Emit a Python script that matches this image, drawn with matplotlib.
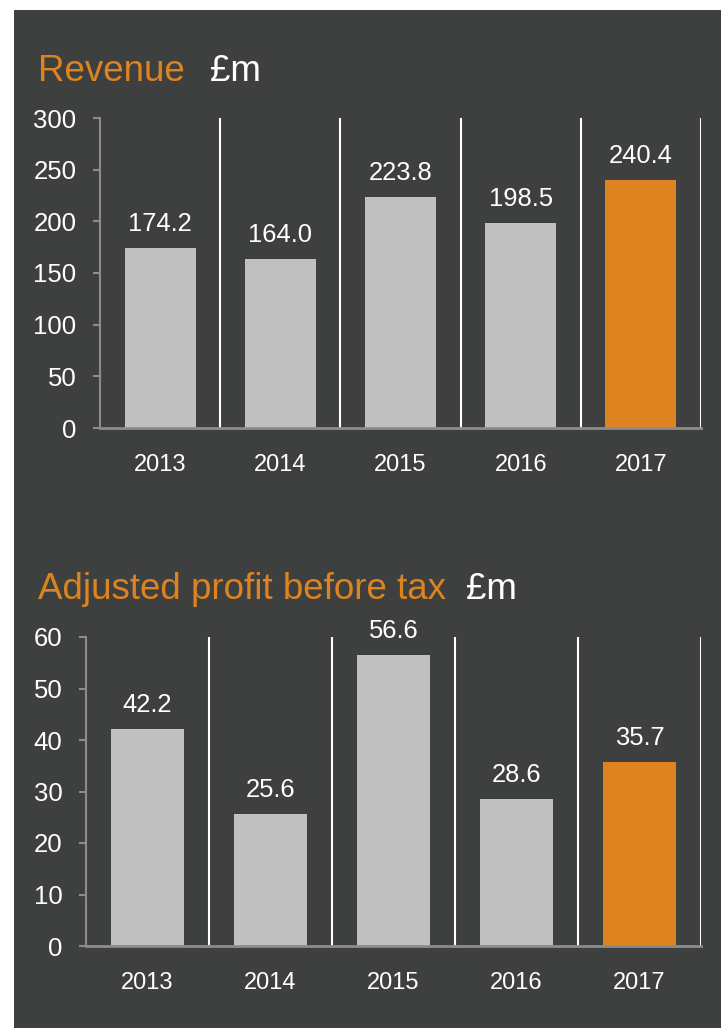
import numpy as np
import matplotlib.pyplot as plt
from matplotlib.patches import Rectangle

plt.rcParams["font.family"] = ["Liberation Sans", "DejaVu Sans"]

years = ['2013', '2014', '2015', '2016', '2017']
revenue = [174.2, 164.0, 223.8, 198.5, 240.4]
profit = [42.2, 25.6, 56.6, 28.6, 35.7]

bg = '#3e3f3f'
orange = '#dd8320'
grey_bar = '#c0c0c0'
axis_grey = '#8c8c8c'

W, H = 721, 1028
fig = plt.figure(figsize=(W / 100, H / 100), dpi=100)
fig.patch.set_facecolor('white')
fig.patches.append(Rectangle((14 / W, 0), 1, 1 - 10 / H, transform=fig.transFigure,
                             facecolor=bg, edgecolor='none', zorder=-5))


def panel(rect, values, ymax, step):
    ax = fig.add_axes(rect)
    ax.set_facecolor('none')
    x = np.arange(len(values))
    colors = [grey_bar] * (len(values) - 1) + [orange]
    bars = ax.bar(x, values, 0.59, color=colors, zorder=2)
    for b, v in zip(bars, values):
        ax.annotate(f'{v:.1f}', xy=(b.get_x() + b.get_width() / 2, v),
                    xytext=(0, 8.5), textcoords='offset points',
                    ha='center', va='bottom', color='white', fontsize=18.4)
    for xv in x + 0.5:
        ax.axvline(xv, color='white', lw=1.5, zorder=1)
    ax.set_xlim(-0.5, len(values) - 0.5)
    ax.set_ylim(0, ymax)
    ax.set_yticks(np.arange(0, ymax + 1, step))
    ax.set_xticks(x)
    ax.set_xticklabels(years)
    ax.tick_params(axis='x', length=0, pad=19, labelsize=17, colors='white')
    ax.tick_params(axis='y', length=5, width=1.5, color=axis_grey, pad=12,
                   labelsize=18.5, labelcolor='white')
    for s in ['top', 'right']:
        ax.spines[s].set_visible(False)
    ax.spines['left'].set_color(axis_grey)
    ax.spines['left'].set_linewidth(1.5)
    ax.spines['bottom'].set_color(axis_grey)
    ax.spines['bottom'].set_linewidth(2)
    return ax


panel([100 / W, 1 - 428 / H, 601 / W, 310 / H], revenue, 300, 50)
panel([86 / W, 1 - 946 / H, 615 / W, 309 / H], profit, 60, 10)

fig.text(38 / W, 1 - 81 / H, 'Revenue', color=orange, fontsize=26.5, va='baseline')
fig.text(210 / W, 1 - 81 / H, '£m', color='white', fontsize=26.5, va='baseline')
fig.text(38 / W, 1 - 599 / H, 'Adjusted profit before tax', color=orange, fontsize=26.5,
         va='baseline')
fig.text(466 / W, 1 - 599 / H, '£m', color='white', fontsize=26.5, va='baseline')

fig.savefig('out.png', dpi=100, facecolor=fig.get_facecolor())
